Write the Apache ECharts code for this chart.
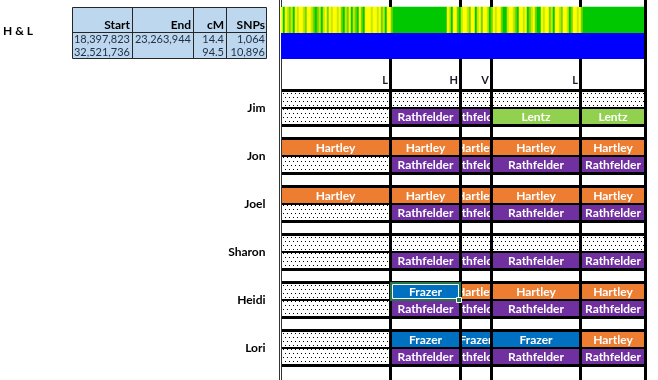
<!DOCTYPE html>
<html><head><meta charset="utf-8">
<script src="https://cdn.jsdelivr.net/npm/echarts@6/dist/echarts.min.js"></script>
<style>html,body{margin:0;padding:0;background:#fff}#c{width:658px;height:380px}</style>
</head><body><div id="c"></div>
<script>
// ---------- data ----------
const persons = ['Jim', 'Jon', 'Joel', 'Sharon', 'Heidi', 'Lori'];
const colEdges = [0, 110, 180, 211, 300, 365];          // segment boundaries (axis units)
const crossLabels = ['L', 'H', 'V', 'L', ''];
// each person: [first parental copy, second parental copy]; '' = unknown (dotted)
const jim    = [['', '', '', '', ''], ['', 'Rathfelder', 'Rathfelder', 'Lentz', 'Lentz']];
const jon    = [['Hartley', 'Hartley', 'Hartley', 'Hartley', 'Hartley'], ['', 'Rathfelder', 'Rathfelder', 'Rathfelder', 'Rathfelder']];
const joel   = [['Hartley', 'Hartley', 'Hartley', 'Hartley', 'Hartley'], ['', 'Rathfelder', 'Rathfelder', 'Rathfelder', 'Rathfelder']];
const sharon = [['', '', '', '', ''], ['', 'Rathfelder', 'Rathfelder', 'Rathfelder', 'Rathfelder']];
const heidi  = [['', 'Frazer', 'Hartley', 'Hartley', 'Hartley'], ['', 'Rathfelder', 'Rathfelder', 'Rathfelder', 'Rathfelder']];
const lori   = [['', 'Frazer', 'Frazer', 'Frazer', 'Hartley'], ['', 'Rathfelder', 'Rathfelder', 'Rathfelder', 'Rathfelder']];
const selectedCell = ['Heidi', 0, 1]; // person, copy, column
const familyColors = { Hartley: '#ED7D31', Rathfelder: '#7030A0', Lentz: '#92D050', Frazer: '#0070C0' };

const tableTitle = 'H & L';
const tableHeader = ['Start', 'End', 'cM', 'SNPs'];
const tableRow1 = ['18,397,823', '23,263,944', '14.4', '1,064'];
const tableRow2 = ['32,521,736', '', '94.5', '10,896'];

// SNP match heat strip (levels 0 = green ... 3 = yellow), 2-px bins
const snpSeg1 = [3,0,3,2,1,2,0,3,2,3,3,2,1,3,3,2,1,0,1,2,0,2,3,1,3,2,3,3,2,3,1,0,2,1,3,0,2,1,0,3,1,0,3,3,3,2,3,3,2,3,1,2,0,3,3,1];
const snpSeg2 = [0,0,0,0,0,0,0,0,0,0,0,0,0,0,0,0,0,0,0,0,0,0,0,0,0,0,0];
const snpSeg3 = [3,2,0,3,3,1,0,2,3,3,2,1,3,3,0,2,3,1,3,3,2,0,1,3,2,3,3,1,0,0,2,3,3,2,1,0,3,3,2,3,0,1,2,3,1,0,0,3,2,3,3,1,2,0,3,3,2,1,3,3,2,0,1,3,3,2,3,1];
const snpSeg4 = [0,0,0,0,0,0,0,0,0,0,0,0,0,0,0,0,0,0,0,0,0,0,0,0,0,0,0,0,0,0,0];
const halfBand = [[0, 181, 1]]; // fully shared (blue) band: first bin, last bin, row

// ---------- build ----------
const FONT = 'Lato, "Open Sans", sans-serif';
const snpBins = [].concat(snpSeg1, snpSeg2, snpSeg3, snpSeg4);
const heatData = snpBins.map((v, i) => [i, 0, v]);
const families = [jim, jon, joel, sharon, heidi, lori];
const cellData = [], cellNames = [];
families.forEach((fam, p) => fam.forEach((row, r) => row.forEach((name, c) => {
  cellData.push([colEdges[c], colEdges[c + 1], p, r]);
  cellNames.push(name);
})));
const bgData = persons.map((n, p) => [colEdges[0], colEdges[colEdges.length - 1], p]);
const edgeData = colEdges.map((e) => [e, 0]);
const selP = persons.indexOf(selectedCell[0]);
const selData = [[colEdges[selectedCell[2]], colEdges[selectedCell[2] + 1], selP, selectedCell[1]]];

const dotCanvas = document.createElement('canvas');
dotCanvas.width = 4; dotCanvas.height = 8;
const g = dotCanvas.getContext('2d');
g.fillStyle = '#fff'; g.fillRect(0, 0, 4, 8);
g.fillStyle = '#000'; g.fillRect(1, 1, 1, 1); g.fillRect(3, 5, 1, 1);
const dotFill = { image: dotCanvas, repeat: 'repeat' };

function cellBox(api) {
  const p = api.value(2);
  const x0 = api.coord([api.value(0), p])[0] + 1.5;
  const x1 = api.coord([api.value(1), p])[0] - 1.5;
  const yc = Math.round(api.coord([0, p])[1]);
  const y0 = api.value(3) === 0 ? yc - 16 : yc + 1;
  return { x0, x1, y0, h: 15 };
}

// table graphics
const colX = [72, 132, 193, 226, 267];
const graphics = [
  { type: 'text', left: 3, top: 25, style: { text: tableTitle, font: 'bold 12px ' + FONT, fill: '#000' } },
  { type: 'rect', shape: { x: 72.5, y: 7.5, width: 194, height: 51 }, style: { fill: '#BDD7EE', stroke: '#262626', lineWidth: 1 } },
  { type: 'line', shape: { x1: 72.5, y1: 32.5, x2: 266.5, y2: 32.5 }, style: { stroke: '#262626', lineWidth: 1 } }
];
[1, 2, 3].forEach(i => graphics.push({ type: 'line', shape: { x1: colX[i] + 0.5, y1: 7.5, x2: colX[i] + 0.5, y2: 58.5 }, style: { stroke: '#262626', lineWidth: 1 } }));
tableHeader.forEach((t, i) => graphics.push({ type: 'text', x: colX[i + 1] - 2, y: 25.5,
  style: { text: t, font: 'bold 12px ' + FONT, fill: '#000', align: 'right', verticalAlign: 'middle' } }));
[[tableRow1, 39], [tableRow2, 52.5]].forEach(([row, y]) => row.forEach((t, i) => graphics.push({ type: 'text', x: colX[i + 1] - 2, y: y,
  style: { text: t, font: '11px ' + FONT, fill: '#1F2F45', align: 'right', verticalAlign: 'middle' } })));

const option = {
  animation: false,
  graphic: graphics,
  grid: [
    { left: 281, top: 7, width: 364, height: 52 },
    { left: 280.5, top: 84, width: 365, height: 288 }
  ],
  xAxis: [
    { gridIndex: 0, type: 'category', data: snpBins.map((v, i) => i), show: false },
    { gridIndex: 1, type: 'value', min: 0, max: 365, show: false }
  ],
  yAxis: [
    { gridIndex: 0, type: 'category', data: ['snp', 'half'], inverse: true, show: false },
    { gridIndex: 1, type: 'category', data: persons, inverse: true,
      axisLine: { show: false }, axisTick: { show: false }, splitLine: { show: false },
      axisLabel: { margin: 15, fontWeight: 'bold', fontSize: 12, color: '#000', fontFamily: FONT } }
  ],
  visualMap: { show: false, type: 'piecewise', seriesIndex: 0, dimension: 2,
    pieces: [{ value: 0, color: '#00C800' }, { value: 1, color: '#74D400' }, { value: 2, color: '#C4EA00' }, { value: 3, color: '#FFFF00' }] },
  series: [
    { type: 'heatmap', xAxisIndex: 0, yAxisIndex: 0, data: heatData, itemStyle: { borderWidth: 0 }, emphasis: { disabled: true } },
    { type: 'custom', xAxisIndex: 0, yAxisIndex: 0, data: halfBand, encode: { x: [0, 1], y: 2 },
      renderItem(params, api) {
        const a = api.coord([api.value(0), api.value(2)]);
        const b = api.coord([api.value(1), api.value(2)]);
        const s = api.size([1, 1]);
        return { type: 'rect', shape: { x: a[0] - s[0] / 2, y: a[1] - s[1] / 2, width: b[0] - a[0] + s[0], height: s[1] }, style: { fill: '#0000FF' } };
      } },
    { type: 'custom', xAxisIndex: 1, yAxisIndex: 1, data: bgData, encode: { x: [0, 1], y: 2 }, clip: false,
      renderItem(params, api) {
        const p = api.value(2);
        const x0 = api.coord([api.value(0), p])[0] + 1.5;
        const x1 = api.coord([api.value(1), p])[0] + 1.5;
        const yc = Math.round(api.coord([0, p])[1]);
        return { type: 'rect', z2: 0, shape: { x: x0, y: yc - 19, width: x1 - x0, height: 38 }, style: { fill: '#000' } };
      } },
    { type: 'custom', xAxisIndex: 1, yAxisIndex: 1, data: cellData, encode: { x: [0, 1], y: 2 }, clip: false,
      renderItem(params, api) {
        const b = cellBox(api);
        const name = cellNames[params.dataIndex];
        const narrow = (b.x1 - b.x0) < 40;
        const ch = [{ type: 'rect', z2: narrow ? 1 : 3, shape: { x: b.x0, y: b.y0, width: b.x1 - b.x0, height: b.h },
          style: { fill: name ? familyColors[name] : dotFill } }];
        if (name) ch.push({ type: 'text', z2: narrow ? 2 : 5, x: (b.x0 + b.x1) / 2, y: b.y0 + b.h / 2 + 0.5,
          style: { text: name, fill: '#fff', font: 'bold 12px ' + FONT, align: 'center', verticalAlign: 'middle' } });
        return { type: 'group', children: ch };
      } },
    { type: 'custom', z: 3, xAxisIndex: 1, yAxisIndex: 1, data: edgeData, encode: { x: 0, y: 1 }, clip: false,
      renderItem(params, api) {
        const i = params.dataIndex;
        const x = api.coord([api.value(0), 0])[0];
        const ch = [];
        if (i === 0) {
          ch.push({ type: 'rect', shape: { x: 279, y: 0, width: 1, height: 380 }, style: { fill: '#333' } });
          ch.push({ type: 'rect', shape: { x: 281, y: 0, width: 1, height: 7 }, style: { fill: '#333' } });
          ch.push({ type: 'rect', shape: { x: 281, y: 59, width: 1, height: 321 }, style: { fill: '#333' } });
        } else if (i === colEdges.length - 1) {
          ch.push({ type: 'rect', shape: { x: x - 1.5, y: 0, width: 3, height: 380 }, style: { fill: '#000' } });
        } else {
          ch.push({ type: 'rect', shape: { x: x - 1.5, y: 0, width: 3, height: 7 }, style: { fill: '#000' } });
          ch.push({ type: 'rect', shape: { x: x - 1.5, y: 59, width: 3, height: 321 }, style: { fill: '#000' } });
        }
        if (i > 0 && crossLabels[i - 1]) ch.push({ type: 'text', x: x - 2.5, y: 80.5,
          style: { text: crossLabels[i - 1], font: 'bold 11px ' + FONT, fill: '#1a1a2a', align: 'right', verticalAlign: 'middle' } });
        return { type: 'group', children: ch };
      } },
    { type: 'custom', z: 4, xAxisIndex: 1, yAxisIndex: 1, data: selData, encode: { x: [0, 1], y: 2 }, clip: false,
      renderItem(params, api) {
        const b = cellBox(api);
        const w = b.x1 - b.x0;
        return { type: 'group', children: [
          { type: 'rect', shape: { x: b.x0 - 1, y: b.y0 - 1, width: w + 2, height: b.h + 2 }, style: { fill: 'none', stroke: '#217346', lineWidth: 2 } },
          { type: 'rect', shape: { x: b.x0 + 0.5, y: b.y0 + 0.5, width: w - 1, height: b.h - 1 }, style: { fill: 'none', stroke: '#fff', lineWidth: 1 } },
          { type: 'rect', shape: { x: b.x1 - 2.5, y: b.y0 + b.h - 1.5, width: 5, height: 5 }, style: { fill: '#217346', stroke: '#fff', lineWidth: 1 } }
        ] };
      } }
  ]
};
const chart = echarts.init(document.getElementById('c'), null, { renderer: 'canvas' });
chart.setOption(option);
</script>
</body></html>
